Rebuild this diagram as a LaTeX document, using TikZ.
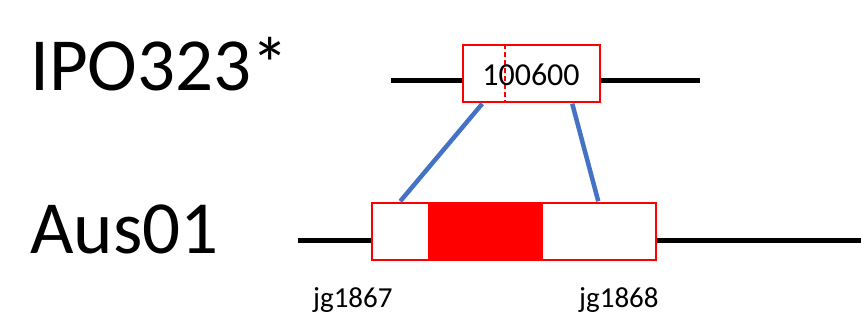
\documentclass[tikz,border=0pt]{standalone}
\usepackage{fontspec}
\setmainfont{Carlito}
\usetikzlibrary{calc}

\tikzset{
  chrom/.style={line width=5pt, black},
  genebox/.style={rectangle, draw=red, line width=1.5pt, fill=white, inner sep=0pt},
  link/.style={line width=4.5pt, color=linkblue},
  cut/.style={red, line width=2pt, dash pattern=on 5pt off 3pt},
  strain/.style={font=\fontsize{75}{82}\selectfont, anchor=base west, inner sep=0pt},
  genelabel/.style={font=\fontsize{29}{33}\selectfont, anchor=base west, inner sep=0pt}
}
\definecolor{linkblue}{HTML}{4472C4}

\begin{document}
\begin{tikzpicture}[x=1pt, y=-1pt]
    \useasboundingbox (0,0) rectangle (861,325);
    % strain names
    \node[strain] (ipoName) at (30,90) {IPO323*};
    \node[strain] (ausName) at (30,253) {Aus01};
    % chromosome lines
    \coordinate (t0) at (391,80);
    \coordinate (t1) at (700,80);
    \coordinate (b0) at (298,240);
    \coordinate (b1) at (861,240);
    \draw[chrom] (t0)--(t1);
    \draw[chrom] (b0)--(b1);
    % genes
    \node[genebox, minimum width=137pt, minimum height=57pt] (ipo) at (531.5,73.5) {};
    \draw[cut] ([xshift=43pt]ipo.north west)--([xshift=43pt]ipo.south west);
    \node[font=\fontsize{32}{36}\selectfont, inner sep=0pt, anchor=base] (ipoLbl) at (531,85) {100600};
    \node[genebox, minimum width=284pt, minimum height=57pt] (aus) at (514,231.5) {};
    \node[rectangle, fill=red, inner sep=0pt, minimum width=115pt, minimum height=56pt] (cds) at (485.5,231.5) {};
    \node[genelabel] (jgA) at (313,307) {jg1867};
    \node[genelabel] (jgB) at (579,307) {jg1868};
    % synteny links
    \draw[link] ([xshift=20pt,yshift=-1pt]ipo.south west)--([xshift=29pt,yshift=1pt]aus.north west);
    \draw[link] ([xshift=110pt,yshift=-1pt]ipo.south west)--([xshift=227pt,yshift=1pt]aus.north west);
\end{tikzpicture}
\end{document}
